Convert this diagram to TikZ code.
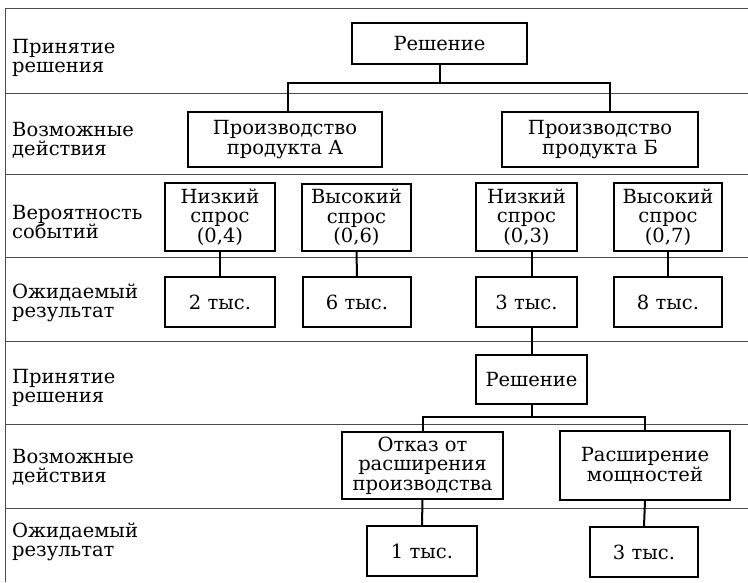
\documentclass[tikz,border=0pt]{standalone}
\usepackage{fontspec}
\setmainfont{DejaVu Serif}
\begin{document}
\begin{tikzpicture}[x=1pt,y=-1pt,
  box/.style={draw=black, line width=2pt, inner sep=0pt, align=center, font=\fontsize{19.5}{19.5}\selectfont},
  lbl/.style={anchor=west, align=left, inner sep=0pt, font=\fontsize{19.5}{19.5}\selectfont},
  gridline/.style={draw=black!70, line width=0.9pt},
  conn/.style={draw=black, line width=2pt}]
\useasboundingbox (0,0) rectangle (748,582);
% frame and row separators
\draw[gridline] (748,8) -- (5,8) -- (5,582);
\foreach \yy in {93,174,257,341,424,508} \draw[gridline] (5,\yy) -- (748,\yy);
% row labels
\node[lbl] (t1) at (12,58) {Принятие\\решения};
\node[lbl] (t2) at (12,140) {Возможные\\действия};
\node[lbl] (t3) at (12,222) {Вероятность\\событий};
\node[lbl] (t4) at (12,303) {Ожидаемый\\результат};
\node[lbl] (t5) at (12,388) {Принятие\\решения};
\node[lbl] (t6) at (12,467) {Возможные\\действия};
\node[lbl] (t7) at (12,542) {Ожидаемый\\результат};
% boxes
\node[box, minimum width=175pt, minimum height=41pt] (dec1) at (439.5,43.5) {Решение};
\node[box, minimum width=194pt, minimum height=55pt] (pA) at (285,139.5) {Производство\\продукта А};
\node[box, minimum width=196pt, minimum height=55pt] (pB) at (600,139.5) {Производство\\продукта Б};
\node[box, minimum width=110pt, minimum height=68pt] (lA) at (220,217) {Низкий\\спрос\\(0,4)};
\node[box, minimum width=109pt, minimum height=67pt] (hA) at (356.5,217.5) {Высокий\\спрос\\(0,6)};
\node[box, minimum width=101pt, minimum height=68pt] (lB) at (526.5,217) {Низкий\\спрос\\(0,3)};
\node[box, minimum width=108pt, minimum height=68pt] (hB) at (668,217) {Высокий\\спрос\\(0,7)};
\node[box, minimum width=110pt, minimum height=50pt] (rA1) at (220,302) {2 тыс.};
\node[box, minimum width=108pt, minimum height=50pt] (rA2) at (357,302) {6 тыс.};
\node[box, minimum width=101pt, minimum height=50pt] (rB1) at (526.5,302) {3 тыс.};
\node[box, minimum width=108pt, minimum height=50pt] (rB2) at (668,302) {8 тыс.};
\node[box, minimum width=111pt, minimum height=49pt] (dec2) at (531.5,379.5) {Решение};
\node[box, minimum width=161pt, minimum height=67pt] (o1) at (422.5,465.5) {Отказ от\\расширения\\производства};
\node[box, minimum width=170pt, minimum height=69pt] (o2) at (645,465.5) {Расширение\\мощностей};
\node[box, minimum width=110pt, minimum height=50pt] (s1) at (422,551) {1 тыс.};
\node[box, minimum width=108pt, minimum height=50pt] (s2) at (644,552) {3 тыс.};
% connectors
\draw[conn] (dec1.south) -- ([yshift=-18pt]dec1.south);
\draw[conn] ([xshift=3pt]pA.north) |- ([yshift=-18pt]dec1.south) -| ([xshift=10pt]pB.north);
\draw[conn] (lA.south) -- (rA1.north);
\draw[conn] (hA.south) -- (rA2.north);
\draw[conn] ([xshift=5pt]lB.south) -- ([xshift=5pt]rB1.north);
\draw[conn] (hB.south) -- (rB2.north);
\draw[conn] ([xshift=5pt]rB1.south) -- (dec2.north);
\draw[conn] (dec2.south) -- ([yshift=-12pt]dec2.south);
\draw[conn] (o1.north) |- ([yshift=-12pt]dec2.south) -| (o2.north);
\draw[conn] (o1.south) -- (s1.north);
\draw[conn] (o2.south) -- (s2.north);
\end{tikzpicture}
\end{document}
